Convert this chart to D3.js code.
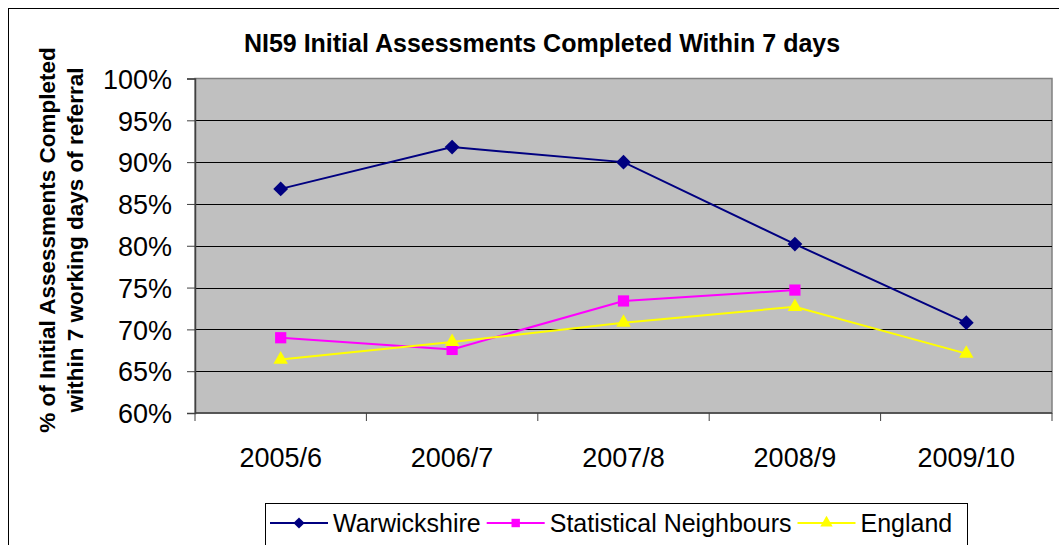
<!DOCTYPE html>
<html>
<head>
<meta charset="utf-8">
<script src="https://cdn.jsdelivr.net/npm/d3@7"></script>
<style>
  body { margin: 0; background: #fff; }
  svg { display: block; font-family: "Liberation Sans", Arial, sans-serif; }
</style>
</head>
<body>
<svg width="1059" height="545"></svg>
<script>
const years = ['2005/6', '2006/7', '2007/8', '2008/9', '2009/10'];
const warwickshire = [86.8, 91.8, 90.0, 80.2, 70.8];
const neighbours = [69.0, 67.6, 73.4, 74.7, null];
const england = [66.4, 68.5, 70.8, 72.7, 67.1];
const yTicks = [60, 65, 70, 75, 80, 85, 90, 95, 100];

const series = [
  { name: 'Warwickshire', values: warwickshire, color: '#000080', symbol: d3.symbolDiamond2, size: 140, legendSize: 80 },
  { name: 'Statistical Neighbours', values: neighbours, color: '#FF00FF', symbol: d3.symbolSquare2, size: 160, legendSize: 90 },
  { name: 'England', values: england, color: '#FFFF00', symbol: d3.symbolTriangle2, size: 150, legendSize: 110 }
];

const svg = d3.select('svg');
const plot = { left: 195, right: 1052, top: 78.5, bottom: 413 };

// chart outer border
svg.append('rect')
  .attr('x', 8.5).attr('y', 8.5)
  .attr('width', 1070).attr('height', 560)
  .attr('fill', 'none').attr('stroke', '#000').attr('stroke-width', 1);

const x = d3.scaleBand().domain(years).range([plot.left, plot.right]);
const y = d3.scaleLinear().domain([60, 100]).range([plot.bottom, plot.top]);

svg.append('rect')
  .attr('x', plot.left).attr('y', plot.top)
  .attr('width', plot.right - plot.left).attr('height', plot.bottom - plot.top)
  .attr('fill', '#C0C0C0').attr('stroke', '#808080').attr('stroke-width', 1.5);

// gridlines
svg.append('g')
  .selectAll('line')
  .data(yTicks.slice(1, -1))
  .join('line')
    .attr('x1', plot.left).attr('x2', plot.right)
    .attr('y1', (d) => Math.round(y(d)) + 0.5)
    .attr('y2', (d) => Math.round(y(d)) + 0.5)
    .attr('stroke', '#000');

const yAxis = d3.axisLeft(y).tickValues(yTicks).tickSize(8).tickPadding(15)
  .tickFormat((d) => d + '%');
svg.append('g')
  .attr('transform', `translate(${plot.left}, 0)`)
  .call(yAxis)
  .call((g) => g.select('.domain').attr('stroke', '#404040').attr('stroke-width', 1.5))
  .call((g) => g.selectAll('.tick line').attr('stroke', '#404040'))
  .call((g) => g.selectAll('text').attr('font-size', 27).attr('fill', '#000')
    .attr('dy', '0.36em')
    .attr('font-family', '"Liberation Sans", Arial, sans-serif'));

// x axis line and ticks at band boundaries
const xg = svg.append('g');
xg.append('line')
  .attr('x1', plot.left).attr('x2', plot.right)
  .attr('y1', plot.bottom).attr('y2', plot.bottom)
  .attr('stroke', '#404040').attr('stroke-width', 1.5);
xg.selectAll('.xt')
  .data(years.concat(['end']))
  .join('line')
    .attr('x1', (d, i) => plot.left + i * x.bandwidth())
    .attr('x2', (d, i) => plot.left + i * x.bandwidth())
    .attr('y1', plot.bottom).attr('y2', plot.bottom + 8)
    .attr('stroke', '#404040');
xg.selectAll('text')
  .data(years)
  .join('text')
    .attr('x', (d) => x(d) + x.bandwidth() / 2)
    .attr('y', 467)
    .attr('text-anchor', 'middle')
    .attr('font-size', 27)
    .text((d) => d);

// lines and markers
const line = d3.line()
  .defined((d) => d != null)
  .x((d, i) => x(years[i]) + x.bandwidth() / 2)
  .y((d) => y(d));

series.forEach((s) => {
  svg.append('path')
    .attr('d', line(s.values))
    .attr('fill', 'none')
    .attr('stroke', s.color)
    .attr('stroke-width', 2);
  svg.append('g')
    .selectAll('path')
    .data(s.values.map((v, i) => ({ v, i })).filter((d) => d.v != null))
    .join('path')
      .attr('d', d3.symbol(s.symbol, s.size))
      .attr('transform', (d) => `translate(${x(years[d.i]) + x.bandwidth() / 2}, ${y(d.v)})`)
      .attr('fill', s.color);
});

// title
svg.append('text')
  .attr('x', 542).attr('y', 52)
  .attr('text-anchor', 'middle')
  .attr('font-size', 25)
  .attr('font-weight', 'bold')
  .text('NI59 Initial Assessments Completed Within 7 days');

// y label
const ylab = svg.append('text')
  .attr('transform', 'translate(0, 240) rotate(-90)')
  .attr('text-anchor', 'middle')
  .attr('font-size', 22.5)
  .attr('font-weight', 'bold');
ylab.append('tspan').attr('x', 0).attr('y', 55).text('% of Initial Assessments Completed');
ylab.append('tspan').attr('x', 0).attr('y', 83).text('within 7 working days of referral');

// legend
svg.append('rect')
  .attr('x', 265.5).attr('y', 503.5)
  .attr('width', 702).attr('height', 60)
  .attr('fill', '#fff').attr('stroke', '#000');

let lx = 270;
series.forEach((s) => {
  const g = svg.append('g').attr('transform', `translate(${lx}, 523)`);
  g.append('line')
    .attr('x1', 0).attr('x2', 58)
    .attr('stroke', s.color).attr('stroke-width', 2);
  g.append('path')
    .attr('d', d3.symbol(s.symbol, s.legendSize)())
    .attr('transform', 'translate(29, 0)')
    .attr('fill', s.color);
  const t = g.append('text')
    .attr('x', 63).attr('y', 9)
    .attr('font-size', 25)
    .text(s.name);
  lx += 63 + t.node().getComputedTextLength() + 6;
});
</script>
</body>
</html>
